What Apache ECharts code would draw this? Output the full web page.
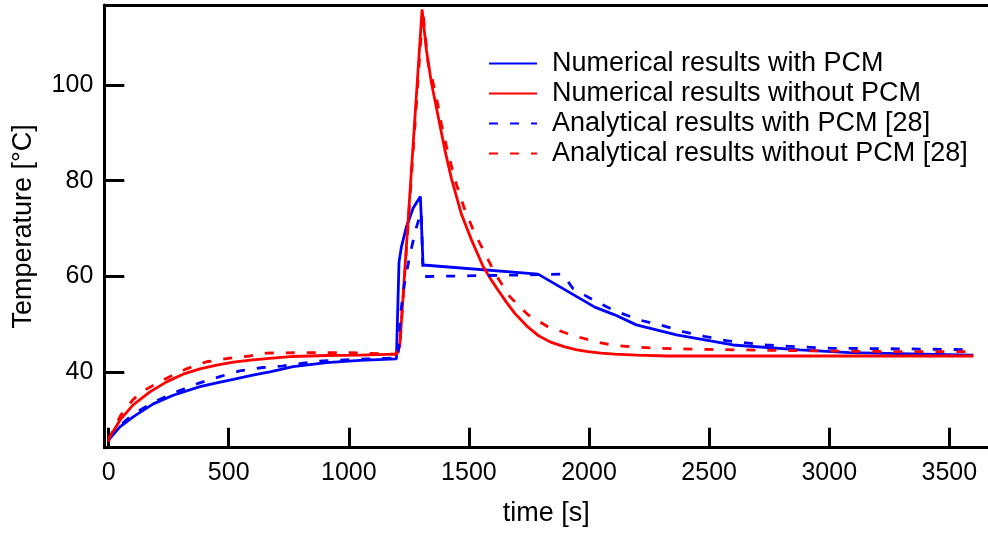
<!DOCTYPE html>
<html>
<head>
<meta charset="utf-8">
<script src="https://cdn.jsdelivr.net/npm/echarts@6/dist/echarts.min.js"></script>
<style>html,body{margin:0;padding:0;background:#fff;}#c{width:988px;height:533px;}</style>
</head>
<body>
<div id="c"></div>
<script>
// ---- data ----
var seriesNames = ['Numerical results with PCM', 'Numerical results without PCM', 'Analytical results with PCM [28]', 'Analytical results without PCM [28]'];
var xTicks = [0, 500, 1000, 1500, 2000, 2500, 3000, 3500];
var yTicks = [40, 60, 80, 100];

var numPcmTime = [0, 47, 102, 186, 269, 380, 450, 519, 600, 671, 768, 907, 1046, 1198, 1205, 1209, 1219, 1240, 1268, 1298, 1309, 1788, 2024, 2107, 2197, 2364, 2599, 2877, 3085, 3600];
var numPcmTemp = [25.9, 28.6, 30.7, 33.4, 35.2, 37.0, 37.8, 38.5, 39.4, 40.1, 41.2, 42.0, 42.5, 42.8, 42.9, 63.0, 66.2, 70.4, 74.3, 76.7, 62.4, 60.5, 53.6, 52.0, 49.9, 47.8, 45.7, 44.7, 44.1, 43.6];

var numNoTime = [0, 5, 47, 102, 172, 241, 310, 380, 450, 519, 600, 671, 768, 907, 1046, 1195, 1212, 1305, 1323, 1344, 1372, 1400, 1427, 1469, 1511, 1559, 1590, 1621, 1655, 1691, 1740, 1788, 1840, 1899, 1950, 1996, 2050, 2107, 2200, 2322, 3600];
var numNoTemp = [25.5, 26.5, 30.0, 33.2, 35.9, 38.0, 39.6, 40.7, 41.5, 42.1, 42.6, 42.9, 43.3, 43.5, 43.6, 43.8, 45.3, 115.8, 107.3, 100.4, 93.4, 86.4, 80.5, 73.0, 67.6, 62.1, 59.5, 57.2, 54.7, 52.3, 49.7, 47.7, 46.3, 45.3, 44.7, 44.3, 44.0, 43.8, 43.6, 43.4, 43.4];

var anaPcmTime = [0, 50, 100, 193, 283, 373, 463, 546, 643, 720, 810, 893, 983, 1075, 1157, 1205, 1215, 1230, 1254, 1282, 1302, 1309, 1323, 1691, 1890, 1933, 2031, 2114, 2211, 2295, 2391, 2480, 2572, 2738, 2880, 3015, 3293, 3600];
var anaPcmTemp = [26.0, 29.0, 31.2, 33.9, 35.9, 37.7, 39.1, 40.3, 41.0, 41.3, 41.9, 42.4, 42.6, 42.8, 42.9, 43.0, 52.0, 58.0, 64.5, 70.4, 73.5, 60.0, 60.0, 60.3, 60.5, 57.5, 54.7, 52.7, 50.9, 49.9, 48.5, 47.5, 46.6, 45.7, 45.3, 45.0, 44.9, 44.7];

var anaNoTime = [0, 50, 100, 137, 227, 318, 408, 498, 588, 657, 800, 1000, 1184, 1200, 1212, 1308, 1330, 1351, 1372, 1386, 1407, 1441, 1483, 1524, 1566, 1608, 1670, 1746, 1829, 1927, 2024, 2093, 2183, 2300, 2462, 2877, 3293, 3600];
var anaNoTemp = [26.0, 31.0, 34.2, 35.9, 38.4, 40.6, 42.2, 42.9, 43.4, 44.0, 44.1, 44.1, 43.8, 43.8, 45.3, 115.5, 104.5, 100.4, 95.5, 91.7, 87.1, 80.3, 73.9, 69.0, 64.9, 60.7, 55.8, 52.0, 49.5, 47.8, 46.4, 45.7, 45.3, 45.0, 44.8, 44.5, 44.3, 44.3];

// ---- build ----
function zip(a, b) { return a.map(function (v, i) { return [v, b[i]]; }); }
var FONT = '"Liberation Sans", Arial, Helvetica, sans-serif';
var BLUE = '#0000ff', RED = '#ff0000';
var DASH = [9, 12];

function mk(name, t, y, color, dashed) {
  return {
    name: name, type: 'line', data: zip(t, y),
    symbol: 'none', showSymbol: false, smooth: false,
    lineStyle: { color: color, width: 2.8, type: dashed ? DASH : 'solid' },
    itemStyle: { color: color },
    xAxisIndex: 0, yAxisIndex: 0
  };
}

var chart = echarts.init(document.getElementById('c'), null, { renderer: 'canvas' });
chart.setOption({
  animation: false,
  backgroundColor: '#fff',
  grid: { left: 104.3, right: 0, top: 5, bottom: 85.3, containLabel: false, outerBoundsMode: 'none' },
  legend: {
    orient: 'vertical', left: 488, top: 50, padding: 0,
    itemWidth: 48, itemHeight: 14, itemGap: 3,
    data: seriesNames,
    itemStyle: { opacity: 0 },
    textStyle: { fontFamily: FONT, fontSize: 27, color: '#000', lineHeight: 27, padding: [0, 0, 0, 10] }
  },
  xAxis: [{
    type: 'value', min: -18, max: 3661, position: 'bottom',
    name: 'time [s]', nameLocation: 'middle', nameGap: 52,
    nameTextStyle: { fontFamily: FONT, fontSize: 27, color: '#000' },
    axisLine: { show: true, onZero: false, lineStyle: { color: '#000', width: 3 } },
    axisTick: { show: true, inside: true, length: 20, customValues: xTicks, lineStyle: { color: '#000', width: 3 } },
    axisLabel: { fontFamily: FONT, fontSize: 25, color: '#000', margin: 13, customValues: xTicks,
      formatter: function (v) { return xTicks.indexOf(v) >= 0 ? String(v) : ''; } },
    splitLine: { show: false }
  }, {
    type: 'value', min: -18, max: 3661, position: 'top',
    axisLine: { show: true, onZero: false, lineStyle: { color: '#000', width: 3 } },
    axisTick: { show: false }, axisLabel: { show: false }, splitLine: { show: false }
  }],
  yAxis: [{
    type: 'value', min: 24.25, max: 116.7,
    name: 'Temperature [°C]', nameLocation: 'middle', nameGap: 67,
    nameTextStyle: { fontFamily: FONT, fontSize: 27, color: '#000' },
    axisLine: { show: true, onZero: false, lineStyle: { color: '#000', width: 3 } },
    axisTick: { show: true, inside: true, length: 20, customValues: yTicks, lineStyle: { color: '#000', width: 3 } },
    axisLabel: { fontFamily: FONT, fontSize: 25, color: '#000', margin: 11, customValues: yTicks,
      formatter: function (v) { return yTicks.indexOf(v) >= 0 ? String(v) : ''; } },
    splitLine: { show: false }
  }],
  series: [
    mk(seriesNames[0], numPcmTime, numPcmTemp, BLUE, false),
    mk(seriesNames[1], numNoTime, numNoTemp, RED, false),
    mk(seriesNames[2], anaPcmTime, anaPcmTemp, BLUE, true),
    mk(seriesNames[3], anaNoTime, anaNoTemp, RED, true)
  ]
});
</script>
</body>
</html>
